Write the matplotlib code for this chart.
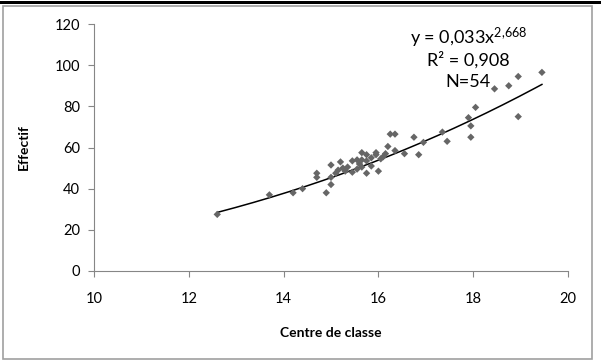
import numpy as np
import matplotlib
matplotlib.use("Agg")
import matplotlib.pyplot as plt
from matplotlib.patches import Rectangle

# class centres and counts
centre = [12.6, 13.7, 14.2, 14.4, 14.7, 14.7, 14.9, 15.0, 15.0, 15.0,
          15.1, 15.15, 15.2, 15.25, 15.35, 15.3, 15.45, 15.45, 15.55, 15.6,
          15.65, 15.65, 15.65, 15.75, 15.75, 15.75, 15.85, 15.95, 15.95, 16.0,
          16.05, 16.1, 16.2, 16.25, 16.35, 16.35, 16.55, 16.75, 16.85, 16.95,
          17.35, 17.45, 17.9, 17.95, 17.95, 18.05, 18.45, 18.75, 18.95, 18.95,
          19.45, 15.85, 15.55, 16.15]
effectif = [27.5, 37, 38, 40, 45.5, 47.5, 38, 42, 45.5, 51.5,
            47.5, 49, 53, 50, 50.5, 48.5, 53.5, 48, 54, 52,
            57.5, 54, 50.5, 56.5, 53.5, 47.5, 55, 57.5, 56.5, 48.5,
            54.5, 55.5, 60.5, 66.5, 66.5, 58.5, 57, 65, 56.5, 62.5,
            67.5, 63, 74.5, 70.5, 65, 79.5, 88.5, 90, 94.5, 75,
            96.5, 51, 49.5, 57]

# power trendline shown on the chart
coef_a = 0.033
coef_b = 2.668

x_ticks = [10, 12, 14, 16, 18, 20]
y_ticks = [0, 20, 40, 60, 80, 100, 120]

plt.rcParams['font.family'] = ['Lato', 'DejaVu Sans']
plt.rcParams['mathtext.fontset'] = 'custom'
plt.rcParams['mathtext.rm'] = 'Lato'
plt.rcParams['mathtext.it'] = 'Lato'

fig = plt.figure(figsize=(6.01, 3.62), dpi=100)
W, H = 601, 362

# outer frame and black rule at the top
fig.patches.append(Rectangle((3 / W, 1 - 359 / H), 589 / W, 353 / H,
                             transform=fig.transFigure, fill=False,
                             edgecolor='#a0a0a0', linewidth=1.2))
fig.patches.append(Rectangle((0, 1 - 4 / H), 1, 3 / H,
                             transform=fig.transFigure, facecolor='black',
                             edgecolor='none'))

ax = fig.add_axes([94 / W, 1 - 271 / H, 474 / W, 247 / H])

ax.scatter(centre, effectif, marker='D', s=14, color='#666666',
           edgecolors='none', zorder=3)

xs = np.linspace(min(centre), max(centre), 200)
ax.plot(xs, coef_a * xs ** coef_b, color='black', linewidth=1.1, zorder=2)

ax.set_xlim(10, 20)
ax.set_ylim(0, 120)
ax.set_xticks(x_ticks)
ax.set_yticks(y_ticks)
ax.tick_params(axis='both', direction='out', length=4, color='#868686',
               labelsize=10.5, pad=6)
ax.tick_params(axis='x', pad=11)
for side in ['top', 'right']:
    ax.spines[side].set_visible(False)
for side in ['left', 'bottom']:
    ax.spines[side].set_color('#868686')

ax.set_xlabel('Centre de classe', fontsize=10, fontweight='bold', labelpad=15)
ax.set_ylabel('Effectif', fontsize=10, fontweight='bold', labelpad=18)

ax.text(0.79, 0.943, 'y = 0,033x$^{2{,}668}$', transform=ax.transAxes,
        ha='center', va='center', fontsize=13)
ax.text(0.79, 0.854, 'R² = 0,908', transform=ax.transAxes,
        ha='center', va='center', fontsize=13)
ax.text(0.79, 0.765, 'N=54', transform=ax.transAxes,
        ha='center', va='center', fontsize=13)

fig.savefig('out.png', dpi=100)
